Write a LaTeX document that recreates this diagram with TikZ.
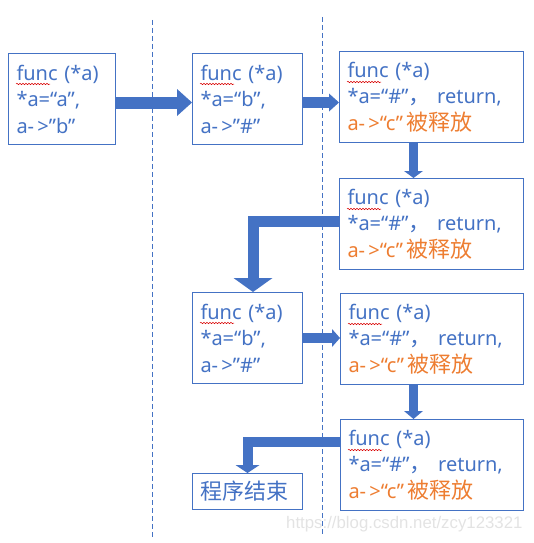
\documentclass[tikz,border=0pt]{standalone}
\usepackage{fontspec}
\setmainfont{Noto Sans}
\newfontfamily\cjkfont{Noto Sans CJK SC}[Scale=1.1]
\newcommand\zh[1]{{\cjkfont #1}}
\newfontfamily\wmfont{Liberation Sans}
\usetikzlibrary{arrows.meta,calc,positioning,decorations.pathmorphing}
\definecolor{ofblue}{HTML}{4472C4}
\definecolor{oforange}{HTML}{ED7D31}

\begin{document}
\begin{tikzpicture}[x=1pt,y=-1pt,
  funcbox/.style={draw=ofblue,line width=1pt,text=ofblue,anchor=north west,
    inner xsep=8pt,inner ysep=0pt,minimum height=91pt,align=left,
    font=\fontsize{20}{26.5}\selectfont},
  blockarrow/.style n args={3}{ofblue,line width=#1,
    -{Triangle[width=#2,length=#3,line width=0pt]}},
  sepline/.style={ofblue,line width=0.8pt,dash pattern=on 5pt off 3pt},
  squiggle/.style={red!85!black,line width=0.5pt,decorate,
    decoration={snake,segment length=3pt,amplitude=0.7pt}}]
\useasboundingbox (0,0) rectangle (533,543);
% watermark, under the dashed lines
\node[font=\wmfont\fontsize{16.8}{18}\selectfont,text=gray!22,anchor=east] (wm)
  at (526,524) {https://blog.csdn.net/zcy123321};
\draw[sepline] (152,20) -- (152,538);
\draw[sepline] (322,17) -- (322,536);
% boxes
\node[funcbox,text width=91pt] (fa) at (8,53)
  {func (*a)\\{}*a=“a”,\\a-\,>”b”};
\node[funcbox,text width=94pt] (fb) at (192,53)
  {func (*a)\\{}*a=“b”,\\a-\,>”\#”};
\node[funcbox,text width=168pt] (fc) at (339,51)
  {func (*a)\\{}*a=“\#”\zh{，} return,\\\textcolor{oforange}{a-\,>“c”\,\zh{被释放}}};
\node[funcbox,text width=168pt] (fd) at (339,178)
  {func (*a)\\{}*a=“\#”\zh{，} return,\\\textcolor{oforange}{a-\,>“c”\,\zh{被释放}}};
\node[funcbox,text width=94pt] (fe) at (192,292)
  {func (*a)\\{}*a=“b”,\\a-\,>”\#”};
\node[funcbox,text width=167pt] (ff) at (340,293)
  {func (*a)\\{}*a=“\#”\zh{，} return,\\\textcolor{oforange}{a-\,>“c”\,\zh{被释放}}};
\node[funcbox,text width=167pt] (fg) at (340,419)
  {func (*a)\\{}*a=“\#”\zh{，} return,\\\textcolor{oforange}{a-\,>“c”\,\zh{被释放}}};
\node[funcbox,text width=94pt,minimum height=36pt] (fend) at (192,473)
  {\zh{程序结束}};
% spell-check marks under "func"
\foreach \b in {fa,fb,fc,fd,fe,ff,fg}
  \draw[squiggle] ([shift={(8,31)}]\b.north west) -- ++(34,0);
% block arrows
\draw[blockarrow={12pt}{27pt}{15pt}] ([yshift=-3.5pt]fa.east) -- ([yshift=-3.5pt]fa.east -| fb.west);
\draw[blockarrow={10.5pt}{18pt}{10pt}] ([yshift=-3.5pt]fb.east) -- ([yshift=-3.5pt]fb.east -| fc.west);
\draw[blockarrow={8.5pt}{19pt}{7pt}] ([xshift=-18pt]fc.south) -- ([xshift=-18pt]fc.south |- fd.north);
\draw[blockarrow={11pt}{39pt}{14pt}] ([yshift=2.5pt]fd.west) -| ([xshift=5.5pt]fe.north);
\draw[blockarrow={10pt}{18pt}{8pt}] (fe.east) -- (fe.east -| ff.west);
\draw[blockarrow={8.5pt}{19pt}{8pt}] ([xshift=-18.5pt]ff.south) -- ([xshift=-18.5pt]ff.south |- fg.north);
\draw[blockarrow={10pt}{24pt}{8pt}] ([yshift=23.5pt]fg.west) -| (fend.north);
\end{tikzpicture}
\end{document}
